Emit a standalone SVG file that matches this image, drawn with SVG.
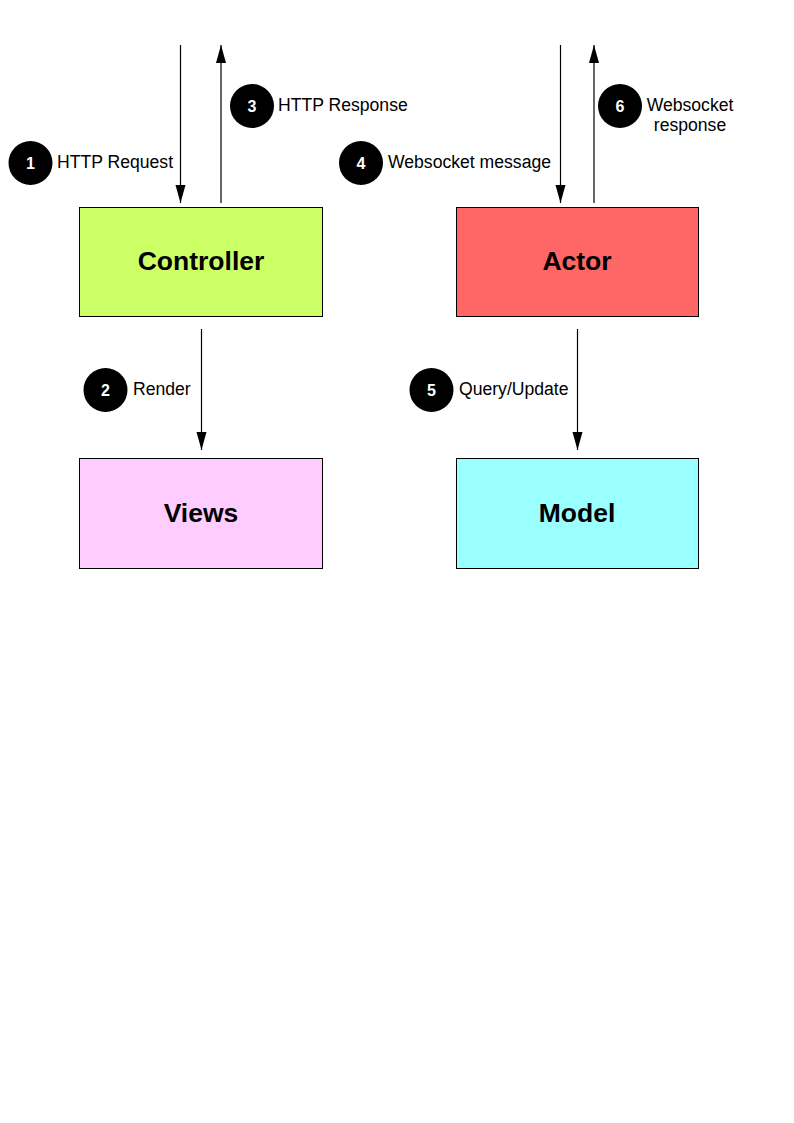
<svg xmlns="http://www.w3.org/2000/svg" width="794" height="1123" viewBox="0 0 794 1123">
<style>
.box{stroke:#000;stroke-width:1}
.title{font-family:"Liberation Sans",Arial,sans-serif;font-weight:bold;font-size:26.5px;text-anchor:middle;fill:#000}
.lbl{font-family:"Liberation Sans",Arial,sans-serif;font-size:17.6px;fill:#000}
.num{font-family:"Liberation Sans",Arial,sans-serif;font-weight:bold;font-size:16px;fill:#fff;text-anchor:middle}
.conn{stroke:#000;stroke-width:1.2;fill:none;marker-end:url(#arrow)}
</style>
<defs>
<marker id="arrow" markerUnits="userSpaceOnUse" markerWidth="20" markerHeight="12" viewBox="0 0 20 12" refX="18" refY="6" orient="auto">
<path d="M0,1 L18,6 L0,11 Z" fill="#000"/>
</marker>
</defs>
<rect width="794" height="1123" fill="#fff"/>
<g id="connectors">
<line class="conn" x1="180.5" y1="45" x2="180.5" y2="203"/>
<line class="conn" x1="221" y1="203" x2="221" y2="45"/>
<line class="conn" x1="560.5" y1="45" x2="560.5" y2="203"/>
<line class="conn" x1="594" y1="203" x2="594" y2="45"/>
<line class="conn" x1="201.5" y1="329" x2="201.5" y2="450"/>
<line class="conn" x1="577.5" y1="329" x2="577.5" y2="450"/>
</g>
<g id="controller">
<rect class="box" x="79.5" y="207.5" width="243" height="109" fill="#ccff66"/>
<text class="title" x="201" y="270">Controller</text>
</g>
<g id="actor">
<rect class="box" x="456.5" y="207.5" width="242" height="109" fill="#ff6666"/>
<text class="title" x="577" y="270">Actor</text>
</g>
<g id="views">
<rect class="box" x="79.5" y="458.5" width="243" height="110" fill="#ffccff"/>
<text class="title" x="201" y="522">Views</text>
</g>
<g id="model">
<rect class="box" x="456.5" y="458.5" width="242" height="110" fill="#99ffff"/>
<text class="title" x="577" y="522">Model</text>
</g>
<g id="label1">
<circle cx="30.5" cy="163" r="22" fill="#000"/>
<text class="num" x="30.5" y="169">1</text>
<text class="lbl" x="57" y="168">HTTP Request</text>
</g>
<g id="label2">
<circle cx="105.5" cy="390" r="22" fill="#000"/>
<text class="num" x="105.5" y="396">2</text>
<text class="lbl" x="133" y="395">Render</text>
</g>
<g id="label3">
<circle cx="252" cy="106" r="22" fill="#000"/>
<text class="num" x="252" y="112">3</text>
<text class="lbl" x="278" y="111">HTTP Response</text>
</g>
<g id="label4">
<circle cx="361" cy="163" r="22" fill="#000"/>
<text class="num" x="361" y="169">4</text>
<text class="lbl" x="388" y="168">Websocket message</text>
</g>
<g id="label5">
<circle cx="431.5" cy="390" r="22" fill="#000"/>
<text class="num" x="431.5" y="396">5</text>
<text class="lbl" x="459" y="395">Query/Update</text>
</g>
<g id="label6">
<circle cx="620" cy="106" r="22" fill="#000"/>
<text class="num" x="620" y="112">6</text>
<text class="lbl" x="690" y="111" text-anchor="middle">Websocket</text>
<text class="lbl" x="690" y="131" text-anchor="middle">response</text>
</g>
</svg>
